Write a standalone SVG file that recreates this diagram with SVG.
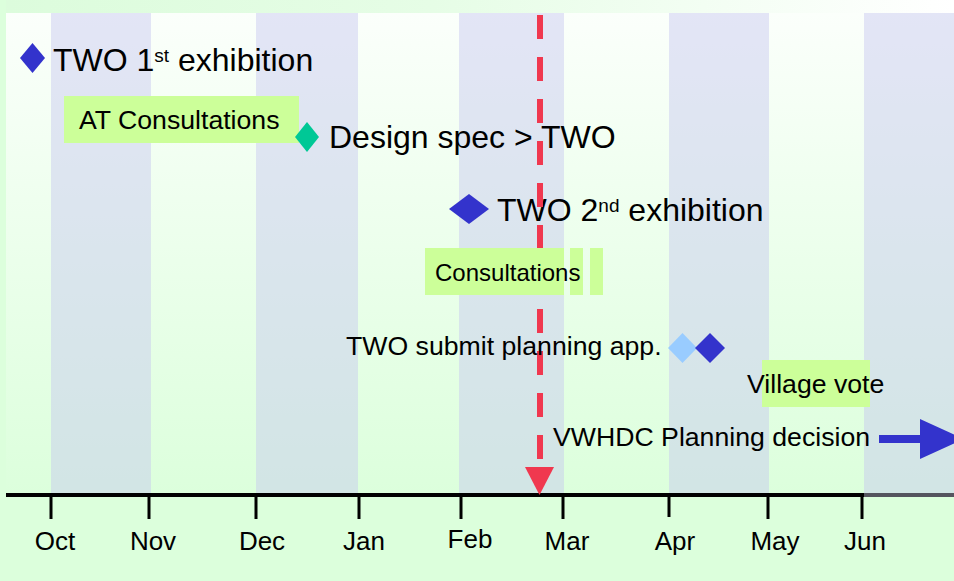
<svg xmlns="http://www.w3.org/2000/svg" width="954" height="581" viewBox="0 0 954 581">
  <defs>
    <linearGradient id="topband" x1="0" y1="0" x2="1" y2="0">
      <stop offset="0" stop-color="#dcfcdc"/>
      <stop offset="0.45" stop-color="#e6fde6"/>
      <stop offset="1" stop-color="#ffffff"/>
    </linearGradient>
    <linearGradient id="mainbg" x1="0" y1="0" x2="0" y2="1">
      <stop offset="0" stop-color="#fbfffb"/>
      <stop offset="1" stop-color="#dcffdc"/>
    </linearGradient>
  </defs>
  <style>
    text { font-family: "Liberation Sans", Arial, sans-serif; fill: #000; }
    .big { font-size: 32px; }
    .mid { font-size: 26.67px; }
    .month { font-size: 26px; text-anchor: middle; }
    .stripe { fill: #c6c6f0; fill-opacity: 0.45; }
    .box { fill: #ccff99; }
    .blue { fill: #3333cc; }
    .tick { stroke: #000; stroke-width: 3; }
    .dash { fill: #f0384f; }
  </style>

  <!-- background -->
  <rect x="0" y="0" width="954" height="581" fill="#dcffdc"/>
  <rect x="6" y="0" width="948" height="13" fill="url(#topband)"/>
  <rect x="6" y="13" width="948" height="482" fill="url(#mainbg)"/>

  <!-- month stripes -->
  <g id="stripes">
    <rect class="stripe" x="51" y="13" width="100" height="482"/>
    <rect class="stripe" x="256" y="13" width="102" height="482"/>
    <rect class="stripe" x="459" y="13" width="105" height="482"/>
    <rect class="stripe" x="669" y="13" width="100" height="482"/>
    <rect class="stripe" x="864" y="13" width="90" height="482"/>
  </g>

  <!-- axis -->
  <g id="axis">
    <line x1="6" y1="495" x2="864" y2="495" stroke="#000" stroke-width="4"/>
    <line x1="864" y1="495" x2="954" y2="495" stroke="#55555f" stroke-width="4"/>
    <line class="tick" x1="51" y1="495" x2="51" y2="519"/>
    <line class="tick" x1="149" y1="495" x2="149" y2="519"/>
    <line class="tick" x1="256" y1="495" x2="256" y2="519"/>
    <line class="tick" x1="359" y1="495" x2="359" y2="519"/>
    <line class="tick" x1="461" y1="495" x2="461" y2="519"/>
    <line class="tick" x1="563" y1="495" x2="563" y2="519"/>
    <line class="tick" x1="669" y1="495" x2="669" y2="517"/>
    <line class="tick" x1="768" y1="495" x2="768" y2="519"/>
    <line class="tick" x1="862" y1="495" x2="862" y2="519"/>
    <text class="month" x="55" y="550">Oct</text>
    <text class="month" x="153" y="550">Nov</text>
    <text class="month" x="262" y="550">Dec</text>
    <text class="month" x="364" y="550">Jan</text>
    <text class="month" x="470" y="548">Feb</text>
    <text class="month" x="567" y="550">Mar</text>
    <text class="month" x="675" y="550">Apr</text>
    <text class="month" x="775" y="550">May</text>
    <text class="month" x="865" y="550">Jun</text>
  </g>

  <!-- nodes -->
  <g id="two-1st-exhibition">
    <polygon class="blue" points="20,58 32.5,43 45,58 32.5,73"/>
    <text class="big" x="53" y="71">TWO 1<tspan font-size="19" dy="-9">st</tspan><tspan dy="9"> exhibition</tspan></text>
  </g>

  <g id="at-consultations">
    <rect class="box" x="64" y="96" width="235" height="47"/>
    <text class="mid" x="79" y="129">AT Consultations</text>
  </g>

  <g id="design-spec">
    <polygon fill="#00c896" points="295,137 307,122 319,137 307,152"/>
    <text class="big" x="329" y="148">Design spec &gt; TWO</text>
  </g>

  <g id="two-2nd-exhibition">
    <polygon class="blue" points="449,209 469,194 489,209 469,224"/>
    <text class="big" x="497" y="221">TWO 2<tspan font-size="19" dy="-9">nd</tspan><tspan dy="9"> exhibition</tspan></text>
  </g>

  <!-- today marker -->
  <g id="connectors">
    <line x1="540" y1="15" x2="540" y2="459" stroke="#f0384f" stroke-width="6" stroke-dasharray="24 18"/>
    <polygon class="dash" points="525,467 554,467 539.5,495"/>
    <polygon class="blue" points="879,435 920,435 920,419 964,439 920,459 920,443 879,443"/>
  </g>

  <g id="consultations">
    <rect class="box" x="425" y="248" width="139" height="47"/>
    <rect class="box" x="570" y="248" width="13" height="47"/>
    <rect class="box" x="590" y="248" width="13" height="47"/>
    <text x="435" y="281" font-size="24">Consultations</text>
  </g>

  <g id="submit-planning">
    <text class="mid" x="346" y="355">TWO submit planning app.</text>
    <polygon fill="#99ccff" points="668,348 682.5,333 697,348 682.5,363"/>
    <polygon class="blue" points="695,348 710,333 725,348 710,363"/>
  </g>

  <g id="village-vote">
    <rect class="box" x="762" y="360" width="108" height="47"/>
    <text class="mid" x="747" y="393">Village vote</text>
  </g>

  <g id="planning-decision">
    <text class="mid" x="553" y="446">VWHDC Planning decision</text>
  </g>
</svg>
